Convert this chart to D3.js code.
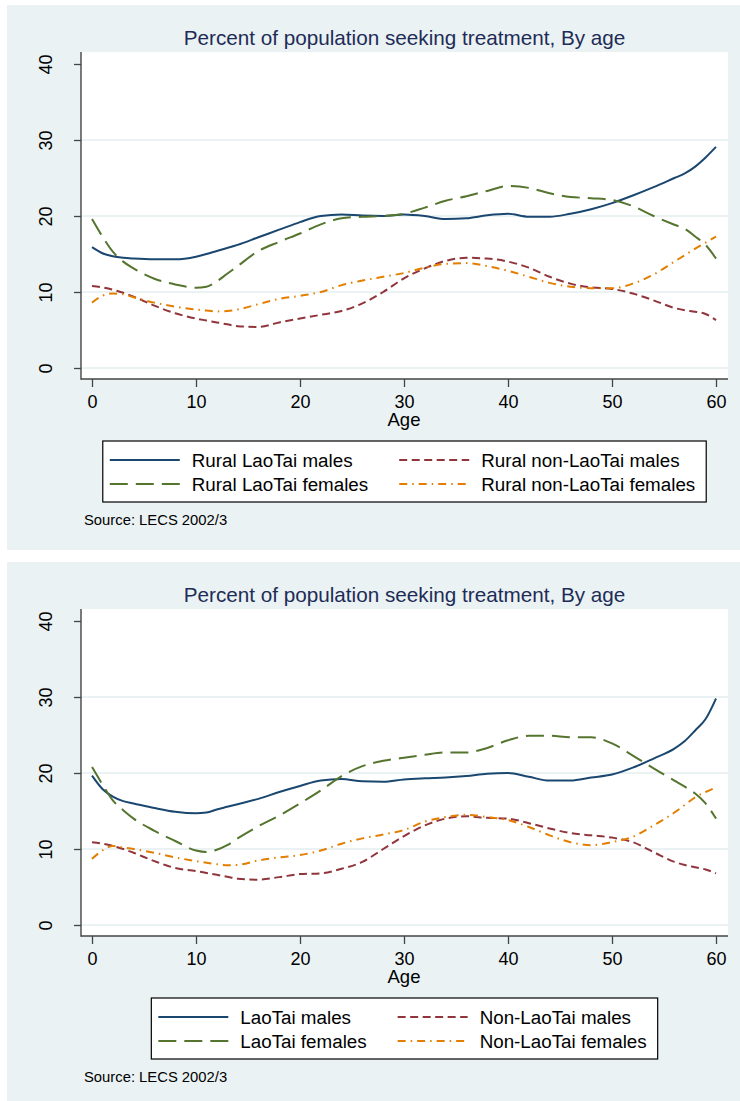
<!DOCTYPE html>
<html>
<head>
<meta charset="utf-8">
<script src="https://cdn.jsdelivr.net/npm/d3@7"></script>
<style>
body { margin: 0; background: #fff; }
svg { display: block; font-family: "Liberation Sans", Arial, sans-serif; }
</style>
</head>
<body>
<svg id="chart" width="740" height="1101"></svg>
<script>
var ages = [0, 1, 2, 3, 4, 6, 8, 10, 11, 12, 13, 14, 16, 18, 20, 22, 24, 26, 28, 30,
    32, 34, 36, 38, 40, 42, 44, 46, 48, 50, 52, 54, 56, 57, 58, 59, 60];

// top panel: rural
var ruralLaoMales = [15.9, 15.1, 14.7, 14.5, 14.4, 14.3, 14.3, 14.65, 15.0, 15.4, 15.8, 16.2, 17.2, 18.2, 19.2, 20.0, 20.2, 20.05, 20.0, 20.2,
    20.0, 19.6, 19.7, 20.1, 20.3, 19.9, 19.9, 20.3, 20.9, 21.7, 22.7, 23.8, 25.0, 25.6, 26.5, 27.7, 29.1];
var ruralNonLaoMales = [10.8, 10.6, 10.3, 9.9, 9.4, 8.2, 7.2, 6.5, 6.25, 6.0, 5.75, 5.5, 5.4, 6.0, 6.5, 7.0, 7.5, 8.5, 10.0, 11.8,
    13.1, 14.1, 14.5, 14.4, 14.0, 13.2, 12.0, 11.1, 10.6, 10.4, 9.8, 8.9, 7.9, 7.6, 7.4, 7.1, 6.3];
var ruralLaoFemales = [19.6, 17.3, 15.3, 14.0, 13.1, 11.75, 11.0, 10.57, 10.7, 11.4, 12.4, 13.4, 15.4, 16.6, 17.7, 18.9, 19.7, 19.9, 20.0, 20.3,
    21.1, 22.0, 22.6, 23.3, 23.95, 23.7, 23.0, 22.5, 22.35, 22.1, 21.3, 20.0, 18.85, 18.3, 17.3, 16.2, 14.4];
var ruralNonLaoFemales = [8.6, 9.5, 9.8, 9.7, 9.3, 8.6, 8.07, 7.7, 7.55, 7.45, 7.5, 7.7, 8.4, 9.1, 9.5, 10.0, 10.9, 11.5, 12.0, 12.5,
    13.2, 13.7, 13.8, 13.4, 12.8, 12.0, 11.2, 10.7, 10.5, 10.5, 11.1, 12.3, 14.0, 14.85, 15.7, 16.5, 17.3];

// bottom panel: all
var laoMales = [19.65, 17.9, 16.9, 16.3, 16.0, 15.4, 14.9, 14.7, 14.8, 15.2, 15.55, 15.9, 16.6, 17.5, 18.3, 19.0, 19.2, 18.9, 18.85, 19.15,
    19.3, 19.4, 19.6, 19.9, 20.0, 19.5, 19.0, 19.0, 19.4, 19.8, 20.7, 21.9, 23.2, 24.2, 25.6, 27.1, 29.8];
var nonLaoMales = [10.9, 10.7, 10.4, 10.0, 9.5, 8.4, 7.5, 7.1, 6.85, 6.6, 6.35, 6.1, 5.96, 6.3, 6.7, 6.8, 7.4, 8.3, 10.0, 11.7,
    13.1, 14.0, 14.3, 14.1, 14.0, 13.4, 12.7, 12.1, 11.8, 11.5, 10.9, 9.6, 8.3, 7.9, 7.6, 7.3, 6.8];
var laoFemales = [20.8, 18.5, 16.4, 15.1, 14.0, 12.4, 11.05, 9.8, 9.6, 9.9, 10.5, 11.4, 13.0, 14.4, 16.0, 17.7, 19.6, 20.9, 21.6, 22.0,
    22.4, 22.7, 22.7, 23.3, 24.3, 24.9, 24.9, 24.7, 24.7, 23.9, 22.3, 20.6, 19.0, 18.2, 17.3, 16.0, 14.0];
var nonLaoFemales = [8.7, 9.8, 10.4, 10.2, 10.0, 9.5, 8.9, 8.4, 8.2, 8.0, 7.85, 7.9, 8.5, 8.9, 9.2, 9.8, 10.7, 11.4, 11.9, 12.5,
    13.6, 14.2, 14.5, 14.2, 13.8, 12.9, 11.8, 10.9, 10.5, 10.9, 11.6, 13.1, 14.8, 15.8, 16.8, 17.5, 18.1];

var ruralLabels = ["Rural LaoTai males", "Rural non-LaoTai males", "Rural LaoTai females", "Rural non-LaoTai females"];
var allLabels = ["LaoTai males", "Non-LaoTai males", "LaoTai females", "Non-LaoTai females"];

var xTicks = [0, 10, 20, 30, 40, 50, 60];
var yTicks = [0, 10, 20, 30, 40];
var title = "Percent of population seeking treatment, By age";
var source = "Source: LECS 2002/3";

var colors = ["#1a476f", "#90353b", "#55752f", "#e37e00"];
var dashes = [null, "8,4.5", "18,8", "8,5,1.5,5"];

var svg = d3.select('#chart');

var drawPanel = function(top, seriesList, labels) {
    var g = svg.append('g').attr('transform', 'translate(0,' + top + ')');

    g.append('rect')
        .attr('x', 7).attr('y', 5)
        .attr('width', 740).attr('height', 545)
        .attr('fill', '#eaf2f3');

    var left = 81, right = 728, pTop = 52, pBottom = 379;
    g.append('rect')
        .attr('x', left).attr('y', pTop)
        .attr('width', right - left).attr('height', pBottom - pTop)
        .attr('fill', '#fff');

    var x = d3.scaleLinear().domain([0, 60]).range([92, 716]);
    var y = d3.scaleLinear().domain([0, 40]).range([368, 64]);

    // grid
    g.selectAll('.grid')
        .data([0, 10, 20, 30])
        .enter().append('line')
        .attr('x1', left).attr('x2', right)
        .attr('y1', function(d) { return y(d); })
        .attr('y2', function(d) { return y(d); })
        .attr('stroke', '#eaf2f3')
        .attr('stroke-width', 2);

    // lines
    var line = d3.line()
        .x(function(d, i) { return x(ages[i]); })
        .y(function(d) { return y(d); })
        .curve(d3.curveMonotoneX);

    seriesList.forEach(function(s, i) {
        g.append('path')
            .attr('d', line(s))
            .attr('fill', 'none')
            .attr('stroke', colors[i])
            .attr('stroke-width', 2)
            .attr('stroke-dasharray', dashes[i]);
    });

    // axes
    var yAxis = g.append('g')
        .attr('transform', 'translate(' + left + ',0)')
        .call(d3.axisLeft(y).tickValues(yTicks).tickSize(7).tickSizeOuter(0));
    yAxis.select('.domain').remove();
    yAxis.selectAll('line').attr('stroke', '#444').attr('stroke-width', 1.3);
    yAxis.selectAll('text')
        .attr('transform', 'rotate(-90)')
        .attr('x', 0).attr('y', -29.5).attr('dy', null)
        .attr('text-anchor', 'middle')
        .attr('font-size', 18)
        .attr('font-family', null)
        .attr('fill', '#000');

    var xAxis = g.append('g')
        .attr('transform', 'translate(0,' + pBottom + ')')
        .call(d3.axisBottom(x).tickValues(xTicks).tickSize(8).tickSizeOuter(0));
    xAxis.select('.domain').remove();
    xAxis.selectAll('line').attr('stroke', '#444').attr('stroke-width', 1.3);
    xAxis.selectAll('text')
        .attr('y', 29).attr('dy', null)
        .attr('font-size', 18)
        .attr('font-family', null)
        .attr('fill', '#000');

    g.append('line')
        .attr('x1', left).attr('x2', left)
        .attr('y1', pTop).attr('y2', pBottom + 0.7)
        .attr('stroke', '#444').attr('stroke-width', 1.4);
    g.append('line')
        .attr('x1', left).attr('x2', right)
        .attr('y1', pBottom).attr('y2', pBottom)
        .attr('stroke', '#444').attr('stroke-width', 1.4);

    var cx = (left + right) / 2;

    g.append('text')
        .attr('x', cx).attr('y', 45)
        .attr('text-anchor', 'middle')
        .attr('font-size', 20.7)
        .attr('fill', '#1e2c57')
        .text(title);

    g.append('text')
        .attr('x', x(30)).attr('y', 426)
        .attr('text-anchor', 'middle')
        .attr('font-size', 18.5)
        .text('Age');

    // legend, two columns, row-major
    var lg = g.append('g');
    var box = lg.append('rect')
        .attr('fill', '#fff')
        .attr('stroke', '#000')
        .attr('stroke-width', 1.2);
    var texts = labels.map(function(l) {
        return lg.append('text').attr('font-size', 18.8).text(l);
    });
    var w = texts.map(function(t) { return t.node().getComputedTextLength(); });
    var col1 = Math.max(w[0], w[2]), col2 = Math.max(w[1], w[3]);
    var boxW = 7 + 70 + 12 + col1 + 31 + 70 + 12 + col2 + 11;
    var bx = cx - boxW / 2;
    box.attr('x', bx).attr('y', 441).attr('width', boxW).attr('height', 61);
    var colX = [bx + 7, bx + 7 + 70 + 12 + col1 + 31];
    var rowY = [460, 484];
    labels.forEach(function(l, i) {
        var cx0 = colX[i % 2], ry = rowY[Math.floor(i / 2)];
        lg.append('line')
            .attr('x1', cx0).attr('x2', cx0 + 70)
            .attr('y1', ry).attr('y2', ry)
            .attr('stroke', colors[i])
            .attr('stroke-width', 2)
            .attr('stroke-dasharray', dashes[i]);
        texts[i].attr('x', cx0 + 82).attr('y', ry + 6.5);
    });

    g.append('text')
        .attr('x', 84).attr('y', 525)
        .attr('font-size', 14.8)
        .text(source);
};

drawPanel(0, [ruralLaoMales, ruralNonLaoMales, ruralLaoFemales, ruralNonLaoFemales], ruralLabels);
drawPanel(557, [laoMales, nonLaoMales, laoFemales, nonLaoFemales], allLabels);
</script>
</body>
</html>
